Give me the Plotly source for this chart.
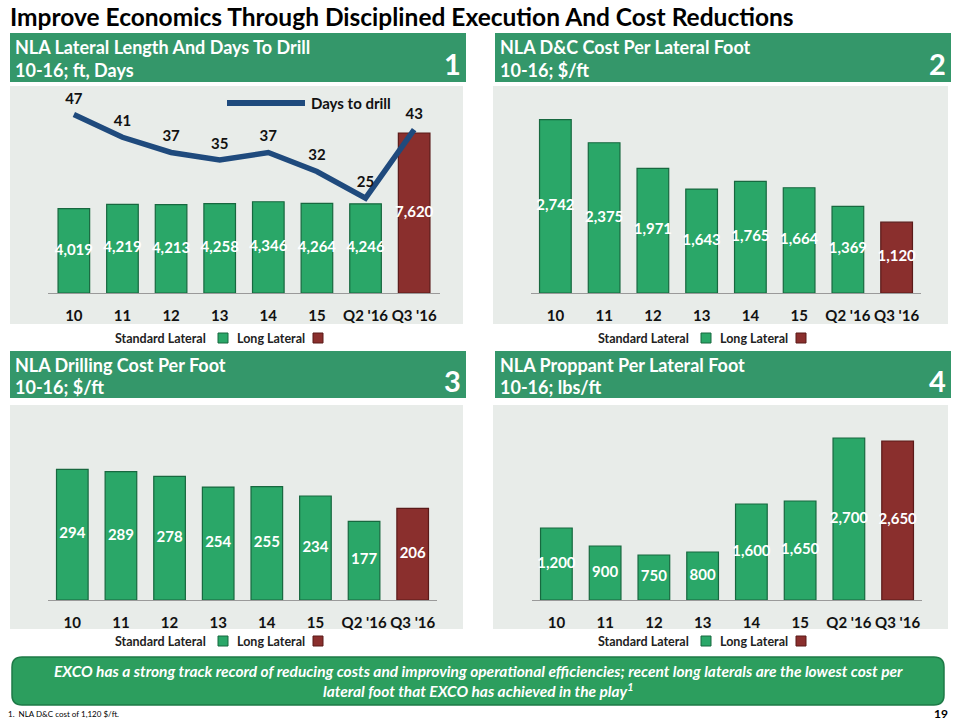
import plotly.graph_objects as go

# ---------------- data ----------------
categories = ["10", "11", "12", "13", "14", "15", "Q2 '16", "Q3 '16"]
lateral_type = ["Standard", "Standard", "Standard", "Standard", "Standard", "Standard", "Standard", "Long"]
lateral_length_ft = [4019, 4219, 4213, 4258, 4346, 4264, 4246, 7620]
days_to_drill = [47, 41, 37, 35, 37, 32, 25, 43]
dc_cost_per_lat_ft = [2742, 2375, 1971, 1643, 1765, 1664, 1369, 1120]
drilling_cost_per_ft = [294, 289, 278, 254, 255, 234, 177, 206]
proppant_per_lat_ft = [1200, 900, 750, 800, 1600, 1650, 2700, 2650]

title_text = "Improve Economics Through Disciplined Execution And Cost Reductions"
panel_titles = [
    ("NLA Lateral Length And Days To Drill", "10-16; ft, Days", "1"),
    ("NLA D&C Cost Per Lateral Foot", "10-16; $/ft", "2"),
    ("NLA Drilling Cost Per Foot", "10-16; $/ft", "3"),
    ("NLA Proppant Per Lateral Foot", "10-16; lbs/ft", "4"),
]
banner_text = ("EXCO has a strong track record of reducing costs and improving operational efficiencies; "
               "recent long laterals are the lowest cost per<br>lateral foot that EXCO has achieved in the play<sup>1</sup>")
footnote_text = "1.  NLA D&C cost of 1,120 $/ft."
page_number = "19"

# ---------------- styles ----------------
W, H = 960, 720
FONT = "Lato"
GREEN_HDR = "#34976A"
BG = "#E8ECE9"
GREEN_BAR = "#2AA768"
GREEN_EDGE = "#17683F"
RED_BAR = "#8A2F2D"
RED_EDGE = "#5A1A19"
LINE_BLUE = "#1F4A7D"

bar_colors = [GREEN_BAR if t == "Standard" else RED_BAR for t in lateral_type]
edge_colors = [GREEN_EDGE if t == "Standard" else RED_EDGE for t in lateral_type]


def px(x):
    return x / W


def py(y):
    return 1 - y / H


fig = go.Figure()
shapes = []
annotations = []

# panel geometry (pixels): header box, chart bg box, plot area
panels = [
    dict(hdr=(10, 33, 466, 82), bg=(10, 86, 463, 324), plot=(48, 83, 440, 293), leg_y=338, leg_x=115),
    dict(hdr=(495, 33, 951, 82), bg=(493, 86, 948, 324), plot=(531, 83, 921, 293), leg_y=338, leg_x=598),
    dict(hdr=(10, 351, 466, 398), bg=(10, 405, 463, 629), plot=(48, 400, 437, 600), leg_y=641, leg_x=115),
    dict(hdr=(495, 351, 951, 398), bg=(493, 405, 948, 629), plot=(532, 400, 922, 600), leg_y=641, leg_x=598),
]
values = [lateral_length_ft, dc_cost_per_lat_ft, drilling_cost_per_ft, proppant_per_lat_ft]
yranges = [[0, 10000], [0, 3320], [0, 450], [0, 3333]]

for i, p in enumerate(panels):
    x0, y0, x1, y1 = p["hdr"]
    shapes.append(dict(type="rect", xref="paper", yref="paper", x0=px(x0), x1=px(x1), y0=py(y1), y1=py(y0),
                       fillcolor=GREEN_HDR, line=dict(width=0), layer="below"))
    bx0, by0, bx1, by1 = p["bg"]
    shapes.append(dict(type="rect", xref="paper", yref="paper", x0=px(bx0), x1=px(bx1), y0=py(by1), y1=py(by0),
                       fillcolor=BG, line=dict(width=0), layer="below"))
    t1, t2, num = panel_titles[i]
    hh = y1 - y0
    annotations.append(dict(xref="paper", yref="paper", x=px(x0 + 3), y=py(y0 + hh * 0.29), text="<b>" + t1 + "</b>",
                            showarrow=False, xanchor="left", yanchor="middle",
                            font=dict(family=FONT, size=18, color="white")))
    annotations.append(dict(xref="paper", yref="paper", x=px(x0 + 3), y=py(y0 + hh * 0.76), text="<b>" + t2 + "</b>",
                            showarrow=False, xanchor="left", yanchor="middle",
                            font=dict(family=FONT, size=18, color="white")))
    annotations.append(dict(xref="paper", yref="paper", x=px(x1 - 3), y=py(y0 + hh * 0.62), text="<b>" + num + "</b>",
                            showarrow=False, xanchor="right", yanchor="middle",
                            font=dict(family=FONT, size=29, color="white")))

    # legend row
    lx, ly = p["leg_x"], p["leg_y"]
    annotations.append(dict(xref="paper", yref="paper", x=px(lx - 2), y=py(ly), text="<b>Standard Lateral</b>",
                            showarrow=False, xanchor="left", yanchor="middle",
                            font=dict(family=FONT, size=12.5, color="#222222")))
    shapes.append(dict(type="rect", xref="paper", yref="paper", x0=px(lx + 103), x1=px(lx + 113),
                       y0=py(ly + 5), y1=py(ly - 5), fillcolor=GREEN_BAR, line=dict(color=GREEN_EDGE, width=1)))
    annotations.append(dict(xref="paper", yref="paper", x=px(lx + 120), y=py(ly), text="<b>Long Lateral</b>",
                            showarrow=False, xanchor="left", yanchor="middle",
                            font=dict(family=FONT, size=12.5, color="#222222")))
    shapes.append(dict(type="rect", xref="paper", yref="paper", x0=px(lx + 198), x1=px(lx + 208),
                       y0=py(ly + 5), y1=py(ly - 5), fillcolor=RED_BAR, line=dict(color=RED_EDGE, width=1)))

    # axes
    ax = "" if i == 0 else str(i + 1)
    px0, py0, px1, py1 = p["plot"]
    vals = values[i]
    fig.add_trace(go.Bar(x=categories, y=vals, xaxis="x" + ax, yaxis="y" + ax,
                         marker=dict(color=bar_colors, line=dict(color=edge_colors, width=1.2)),
                         showlegend=False, hoverinfo="x+y"))
    fig.add_trace(go.Scatter(x=categories, y=[v / 2 for v in vals], xaxis="x" + ax, yaxis="y" + ax,
                             mode="text", text=[f"{v:,}" for v in vals],
                             textfont=dict(family=FONT, size=15, color="white", weight="bold"),
                             textposition="middle center", showlegend=False, hoverinfo="skip"))
    fig.layout["xaxis" + ax] = dict(domain=[px(px0), px(px1)], anchor="y" + ax, type="category",
                                    showline=True, linecolor="#9A9A9A", linewidth=1, showgrid=False,
                                    ticks="outside", ticklen=9, tickcolor="rgba(0,0,0,0)", tickangle=0,
                                    tickfont=dict(family=FONT, size=15, color="#111111", weight="bold"),
                                    fixedrange=True)
    fig.layout["yaxis" + ax] = dict(domain=[py(py1), py(py0)], anchor="x" + ax, range=yranges[i],
                                    showgrid=False, showticklabels=False, zeroline=False, showline=False,
                                    fixedrange=True)

# days to drill line on secondary axis of panel 1
fig.add_trace(go.Scatter(x=categories, y=days_to_drill, xaxis="x", yaxis="y5", mode="lines",
                         line=dict(color=LINE_BLUE, width=5.5), showlegend=False))
fig.add_trace(go.Scatter(x=categories, y=days_to_drill, xaxis="x", yaxis="y5", mode="markers+text",
                         marker=dict(size=10, color="rgba(0,0,0,0)"), text=[str(d) for d in days_to_drill],
                         textposition="top center",
                         textfont=dict(family=FONT, size=15, color="#111111", weight="bold"),
                         showlegend=False, hoverinfo="skip"))
fig.layout["yaxis5"] = dict(domain=[py(293), py(83)], anchor="x", overlaying="y", side="right",
                            range=[0, 55.3], showgrid=False, showticklabels=False, zeroline=False,
                            fixedrange=True)

# days to drill legend
shapes.append(dict(type="line", xref="paper", yref="paper", x0=px(227), x1=px(305), y0=py(103), y1=py(103),
                   line=dict(color=LINE_BLUE, width=6)))
annotations.append(dict(xref="paper", yref="paper", x=px(309), y=py(103), text="<b>Days to drill</b>",
                        showarrow=False, xanchor="left", yanchor="middle",
                        font=dict(family=FONT, size=15, color="#111111")))


# rounded banner
def rounded_rect(x0, y0, x1, y1, r):
    def P(x, y):
        return f"{px(x):.5f},{py(y):.5f}"
    return (f"M {P(x0 + r, y0)} L {P(x1 - r, y0)} Q {P(x1, y0)} {P(x1, y0 + r)} "
            f"L {P(x1, y1 - r)} Q {P(x1, y1)} {P(x1 - r, y1)} L {P(x0 + r, y1)} "
            f"Q {P(x0, y1)} {P(x0, y1 - r)} L {P(x0, y0 + r)} Q {P(x0, y0)} {P(x0 + r, y0)} Z")


shapes.append(dict(type="path", xref="paper", yref="paper", path=rounded_rect(12, 657, 944, 705, 10),
                   fillcolor="#2C9E5E", line=dict(color="#1E7A47", width=1.5)))
annotations.append(dict(xref="paper", yref="paper", x=px(478), y=py(681), text="<b><i>" + banner_text + "</i></b>",
                        showarrow=False, xanchor="center", yanchor="middle", align="center",
                        font=dict(family=FONT, size=15.5, color="white")))

# title, footnote, page number
annotations.append(dict(xref="paper", yref="paper", x=px(8), y=py(16), text="<b>" + title_text + "</b>",
                        showarrow=False, xanchor="left", yanchor="middle",
                        font=dict(family=FONT, size=24.5, color="#000000")))
annotations.append(dict(xref="paper", yref="paper", x=px(6), y=py(714), text=footnote_text,
                        showarrow=False, xanchor="left", yanchor="middle",
                        font=dict(family=FONT, size=8, color="#000000")))
annotations.append(dict(xref="paper", yref="paper", x=px(950), y=py(713), text="<b>" + page_number + "</b>",
                        showarrow=False, xanchor="right", yanchor="middle",
                        font=dict(family=FONT, size=12, color="#000000")))

fig.update_layout(width=W, height=H, margin=dict(l=0, r=0, t=0, b=0), paper_bgcolor="white",
                  plot_bgcolor="rgba(0,0,0,0)", bargap=0.35, shapes=shapes, annotations=annotations,
                  showlegend=False)

fig.write_html("out.html", config={"displayModeBar": False},
               post_script="document.body.style.margin='0';document.body.style.padding='0';")
